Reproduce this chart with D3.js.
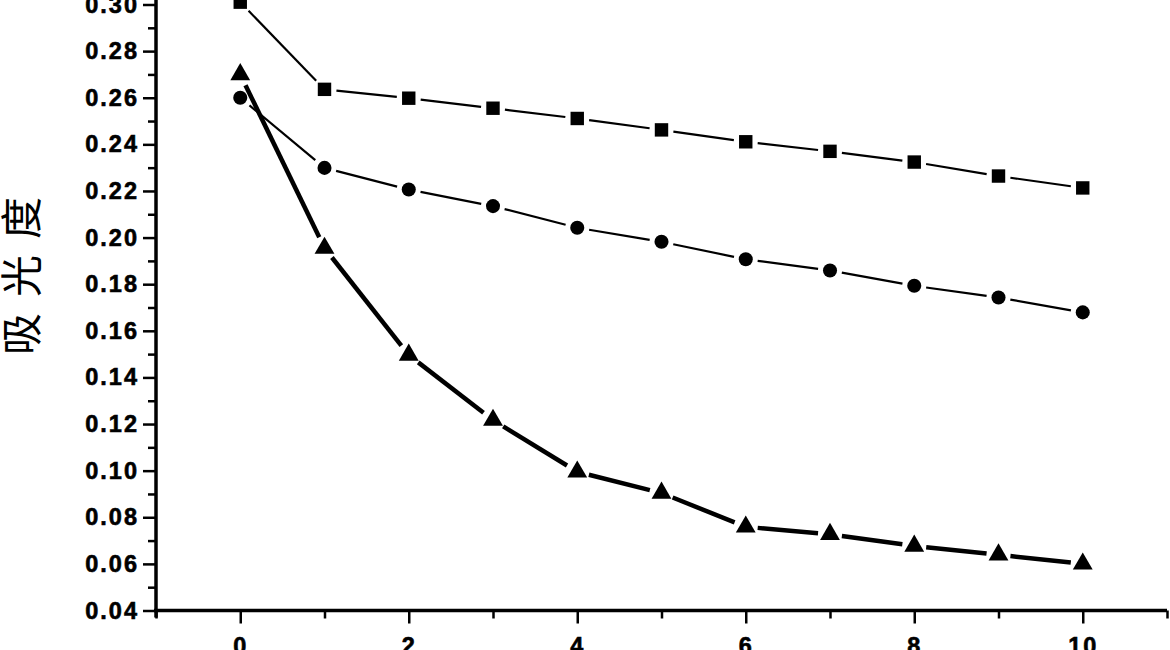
<!DOCTYPE html>
<html>
<head>
<meta charset="utf-8">
<script src="https://cdn.jsdelivr.net/npm/d3@7"></script>
<style>
  body { margin: 0; background: #fff; }
  svg { display: block; }
  .tick text { font-family: "Liberation Sans", Arial, sans-serif; font-weight: bold; font-size: 23.5px; letter-spacing: 2px; fill: #000; stroke: #000; stroke-width: 0.6px; }
</style>
</head>
<body>
<script>
// data
var xVals = [0, 1, 2, 3, 4, 5, 6, 7, 8, 9, 10];
var squareVals = [0.301, 0.2636, 0.2598, 0.2555, 0.2511, 0.2462, 0.2411, 0.2370, 0.2324, 0.2264, 0.2213];
var circleVals = [0.2600, 0.2299, 0.2206, 0.2135, 0.2042, 0.1982, 0.1907, 0.1859, 0.1793, 0.1743, 0.1679];
var triangleVals = [0.2700, 0.1955, 0.1496, 0.1217, 0.0995, 0.0904, 0.0759, 0.0727, 0.0677, 0.0639, 0.0600];
var xMajor = [0, 2, 4, 6, 8, 10];
var xMinor = [-1, 1, 3, 5, 7, 9, 11];
var yMajor = [0.04, 0.06, 0.08, 0.10, 0.12, 0.14, 0.16, 0.18, 0.20, 0.22, 0.24, 0.26, 0.28, 0.30];
var yMinor = [0.05, 0.07, 0.09, 0.11, 0.13, 0.15, 0.17, 0.19, 0.21, 0.23, 0.25, 0.27, 0.29];
var yTitle = "吸光度";

var width = 1170, height = 650;
var svg = d3.select("body").append("svg")
  .attr("width", width)
  .attr("height", height);

var x = d3.scaleLinear().domain([-1, 11]).range([156, 1167]);
var y = d3.scaleLinear().domain([0.04, 0.30]).range([610.5, 4.5]);

// ---- axes ----
var gx = svg.append("g")
  .attr("transform", "translate(0," + y(0.04) + ")")
  .call(d3.axisBottom(x).tickValues(xMajor).tickSize(13).tickPadding(14)
    .tickFormat(d3.format("d")));
gx.selectAll(".tick line").attr("stroke-width", 2.5);
gx.select(".domain").remove();

svg.append("g")
  .attr("transform", "translate(0," + y(0.04) + ")")
  .call(d3.axisBottom(x).tickValues(xMinor).tickSize(8).tickFormat(""))
  .call(function(g) { g.select(".domain").remove(); })
  .selectAll(".tick line").attr("stroke-width", 2.5);

var gy = svg.append("g")
  .attr("transform", "translate(" + x(-1) + ",0)")
  .call(d3.axisLeft(y).tickValues(yMajor).tickSize(13).tickPadding(4)
    .tickFormat(d3.format(".2f")));
gy.selectAll(".tick line").attr("stroke-width", 2.5);
gy.select(".domain").remove();

svg.append("g")
  .attr("transform", "translate(" + x(-1) + ",0)")
  .call(d3.axisLeft(y).tickValues(yMinor).tickSize(8).tickFormat(""))
  .call(function(g) { g.select(".domain").remove(); })
  .selectAll(".tick line").attr("stroke-width", 2.5);

// axis lines
svg.append("line")
  .attr("x1", x(-1)).attr("x2", x(-1))
  .attr("y1", 0).attr("y2", y(0.04) + 7)
  .attr("stroke", "#000").attr("stroke-width", 3.5);
svg.append("line")
  .attr("x1", x(-1) - 2).attr("x2", x(11))
  .attr("y1", y(0.04)).attr("y2", y(0.04))
  .attr("stroke", "#000").attr("stroke-width", 3.5);

// y title
svg.append("text")
  .attr("transform", "translate(37,268) rotate(-90)")
  .attr("text-anchor", "middle")
  .attr("font-family", "'Noto Sans CJK SC', sans-serif")
  .attr("font-size", 42)
  .attr("letter-spacing", 16)
  .attr("fill", "#000")
  .text(yTitle);

// ---- series ----
function drawSeries(vals, lineWidth, gap) {
  var pts = vals.map(function(v, i) { return [x(xVals[i]), y(v)]; });
  var segs = d3.pairs(pts);
  svg.append("g").selectAll("line")
    .data(segs)
    .enter().append("line")
    .each(function(s) {
      var dx = s[1][0] - s[0][0], dy = s[1][1] - s[0][1];
      var len = Math.sqrt(dx * dx + dy * dy);
      var ux = dx / len, uy = dy / len;
      d3.select(this)
        .attr("x1", s[0][0] + ux * gap).attr("y1", s[0][1] + uy * gap)
        .attr("x2", s[1][0] - ux * gap).attr("y2", s[1][1] - uy * gap);
    })
    .attr("stroke", "#000")
    .attr("stroke-width", lineWidth);
  return pts;
}

var sqPts = drawSeries(squareVals, 2.2, 12);
var ciPts = drawSeries(circleVals, 2.2, 12);
var trPts = drawSeries(triangleVals, 4.5, 12);

svg.append("g").selectAll("path")
  .data(sqPts)
  .enter().append("path")
  .attr("transform", function(d) { return "translate(" + d[0] + "," + d[1] + ")"; })
  .attr("d", d3.symbol().type(d3.symbolSquare).size(180))
  .attr("fill", "#000");

svg.append("g").selectAll("path")
  .data(ciPts)
  .enter().append("path")
  .attr("transform", function(d) { return "translate(" + d[0] + "," + d[1] + ")"; })
  .attr("d", d3.symbol().type(d3.symbolCircle).size(155))
  .attr("fill", "#000");

svg.append("g").selectAll("path")
  .data(trPts)
  .enter().append("path")
  .attr("transform", function(d) { return "translate(" + d[0] + "," + d[1] + ")"; })
  .attr("d", d3.symbol().type(d3.symbolTriangle).size(170))
  .attr("fill", "#000");
</script>
</body>
</html>
